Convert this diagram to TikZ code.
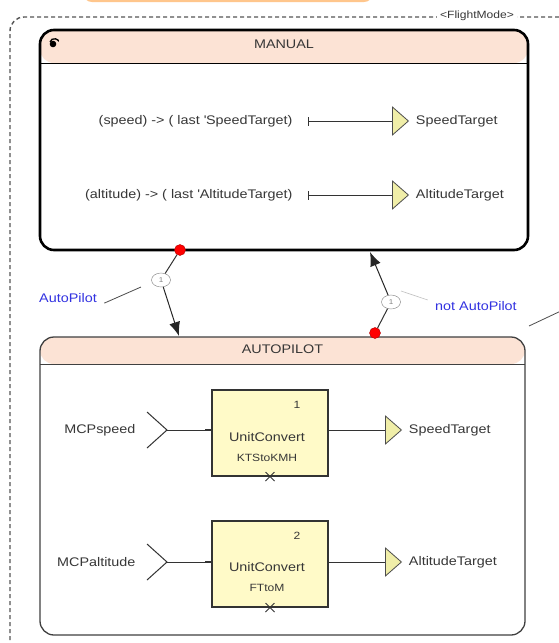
\documentclass[tikz,border=0pt]{standalone}
\usepackage{fontspec}
\setmainfont{Liberation Sans}[FakeStretch=1.15]
\usetikzlibrary{shapes,arrows.meta,positioning,calc}
\definecolor{headcolor}{RGB}{252,227,213}
\definecolor{blockcolor}{RGB}{255,250,200}
\definecolor{portcolor}{RGB}{240,238,168}
\definecolor{guardcolor}{RGB}{50,50,225}
\definecolor{textcolor}{RGB}{55,55,55}
\definecolor{framecolor}{RGB}{85,85,85}

\begin{document}
\begin{tikzpicture}[
    x=1pt, y=-1pt,
    every node/.style={font=\fontsize{12.5}{15}\selectfont, text=textcolor},
    statebox/.style={rectangle, rounded corners=14pt, draw=black},
    block/.style={rectangle, draw=black!80, line width=1.2pt, fill=blockcolor, minimum width=116pt, minimum height=86pt},
    outport/.style={isosceles triangle, isosceles triangle stretches, shape border rotate=0, draw=black!70, line width=0.8pt, fill=portcolor, minimum width=28pt, minimum height=16pt, inner sep=0pt},
    entry/.style={circle, fill=red, draw=red!70!black, minimum size=11pt, inner sep=0pt},
    prio/.style={ellipse, draw=gray, fill=white, minimum width=19pt, minimum height=14pt, inner sep=0pt, font=\fontsize{7}{8}\selectfont, text=gray},
    guard/.style={text=guardcolor},
    small/.style={font=\fontsize{10.5}{12}\selectfont},
    wire/.style={line width=1pt, black!80},
    trans/.style={-{Latex[length=14pt,width=11pt]}, line width=1pt, black!85},
    leader/.style={line width=0.8pt, black!70},
    frame/.style={framecolor, line width=1.4pt, dash pattern=on 4pt off 3pt}
]
\clip (0,0) rectangle (559,643);
\fill[white] (0,0) rectangle (559,643);

% Partly visible box above
\draw[orange!45, fill=orange!10, line width=2pt, rounded corners=8pt] (84,-30) -- (84,1) -- (372,1) -- (372,-30);

% Outer FlightMode frame
\draw[frame, rounded corners=14pt] (580,17) -- (10,17) -- (10,670);
\node[fill=white, small, inner sep=3pt] (modename) at (477,16) {<FlightMode>};

% MANUAL state
\node[statebox, line width=2.6pt, minimum width=488pt, minimum height=220pt,
    path picture={
        \fill[headcolor] (path picture bounding box.north west) rectangle ([yshift=-33pt]path picture bounding box.north east);
        \draw[line width=1pt] ([yshift=-33pt]path picture bounding box.north west) -- ([yshift=-33pt]path picture bounding box.north east);
    }] (manual) at (284,140) {};
\node (manualtitle) at ($(manual.north)+(0,16)$) {MANUAL};
\fill[black] (53,44) circle (3.3pt);
\draw[line width=1.3pt, -{Stealth[length=2.5pt]}] (50,42) arc[start angle=165, end angle=15, radius=4.5pt];

% AUTOPILOT state
\node[statebox, line width=1.3pt, draw=black!75, minimum width=485pt, minimum height=298pt,
    path picture={
        \fill[headcolor] (path picture bounding box.north west) rectangle ([yshift=-27pt]path picture bounding box.north east);
        \draw[line width=1pt, black!75] ([yshift=-27pt]path picture bounding box.north west) -- ([yshift=-27pt]path picture bounding box.north east);
    }] (autopilot) at (282.5,486) {};
\node (autotitle) at ($(autopilot.north)+(0,13)$) {AUTOPILOT};

% MANUAL equations
\node[anchor=east] (speedlast) at (296,121) {(speed) -> ( last \textquotesingle SpeedTarget)};
\node[outport, anchor=west] (manspeed) at (392,121) {};
\node[right=3pt of manspeed] (manspeedlbl) {SpeedTarget};
\draw[wire, {Bar[width=9pt]}-] ($(speedlast.east)+(12,0)$) -- (manspeed.west);

\node[anchor=east] (altlast) at (296,195) {(altitude) -> ( last \textquotesingle AltitudeTarget)};
\node[outport, anchor=west] (manalt) at (392,195) {};
\node[right=3pt of manalt] (manaltlbl) {AltitudeTarget};
\draw[wire, {Bar[width=9pt]}-] ($(altlast.east)+(12,0)$) -- (manalt.west);

% AUTOPILOT speed row
\node[anchor=east] (mcpspeed) at (139,430) {MCPspeed};
\coordinate (speedin) at (167,430);
\draw[wire] ($(speedin)+(-20,-18)$) -- (speedin) -- ($(speedin)+(-20,18)$);
\node[block] (ktsconv) at (270,433) {};
\draw[wire] (speedin) -- (speedin -| ktsconv.west);
\draw[line width=2.5pt, black!80] ($(speedin -| ktsconv.west)+(-6,0)$) -- (speedin -| ktsconv.west);
\node[small] (ktsnum) at ($(ktsconv.north)+(27,15)$) {1};
\node (ktsname) at ($(ktsconv.center)+(-3,4)$) {UnitConvert};
\node[small] (ktsparam) at ($(ktsconv.center)+(-3,25)$) {KTStoKMH};
\node[cross out, draw=black!80, line width=0.9pt, minimum size=8pt, inner sep=0pt] (ktsmark) at (ktsconv.south) {};
\node[outport, anchor=west] (autospeed) at (385,430) {};
\draw[wire] (ktsconv.east |- autospeed) -- (autospeed.west);
\node[right=3pt of autospeed] (autospeedlbl) {SpeedTarget};

% AUTOPILOT altitude row
\node[anchor=east] (mcpalt) at (139,562) {MCPaltitude};
\coordinate (altin) at (167,562);
\draw[wire] ($(altin)+(-20,-18)$) -- (altin) -- ($(altin)+(-20,18)$);
\node[block] (ftconv) at (270,564) {};
\draw[wire] (altin) -- (altin -| ftconv.west);
\draw[line width=2.5pt, black!80] ($(altin -| ftconv.west)+(-6,0)$) -- (altin -| ftconv.west);
\node[small] (ftnum) at ($(ftconv.north)+(27,15)$) {2};
\node (ftname) at ($(ftconv.center)+(-3,3)$) {UnitConvert};
\node[small] (ftparam) at ($(ftconv.center)+(-3,24)$) {FTtoM};
\node[cross out, draw=black!80, line width=0.9pt, minimum size=8pt, inner sep=0pt] (ftmark) at (ftconv.south) {};
\node[outport, anchor=west] (autoalt) at (385,562) {};
\draw[wire] (ftconv.east |- autoalt) -- (autoalt.west);
\node[right=3pt of autoalt] (autoaltlbl) {AltitudeTarget};

% Transition MANUAL -> AUTOPILOT
\node[entry] (autosrc) at (180,250) {};
\node[prio] (autoprio) at (161,280) {1};
\coordinate (autotgt) at (179,336);
\draw[wire] (autosrc) -- (autoprio);
\draw[trans] (autoprio) -- (autotgt);
\node[guard] (autoguard) at (68,298) {AutoPilot};
\coordinate (autoleader) at (141,287);
\draw[leader] ($(autoguard.south east)+(4,-3)$) -- (autoleader);

% Transition AUTOPILOT -> MANUAL
\node[entry] (manualsrc) at (375,333) {};
\node[prio] (manualprio) at (391,302) {1};
\coordinate (manualtgt) at (370,252);
\draw[wire] (manualsrc) -- (manualprio);
\draw[trans] (manualprio) -- (manualtgt);
\node[guard] (manualguard) at (476,306) {not AutoPilot};
\coordinate (manualleader) at (401,291);
\draw[line width=0.6pt, gray!50] ($(manualguard.west)+(-4,-6)$) -- (manualleader);
\coordinate (edgestart) at (529,326);
\coordinate (edgeend) at (563,310);
\draw[leader] (edgestart) -- (edgeend);

\end{tikzpicture}
\end{document}
